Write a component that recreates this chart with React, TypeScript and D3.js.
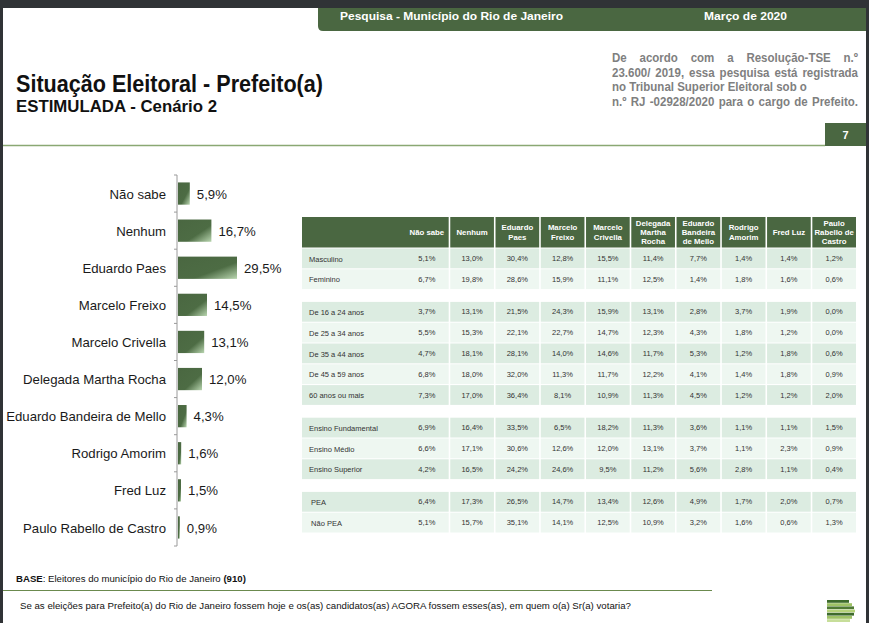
import React, { useEffect, useRef } from "react";
import * as d3 from "d3";

// bar chart data (estimulada - cenário 2)
const candidates = [
  "Não sabe",
  "Nenhum",
  "Eduardo Paes",
  "Marcelo Freixo",
  "Marcelo Crivella",
  "Delegada Martha Rocha",
  "Eduardo Bandeira de Mello",
  "Rodrigo Amorim",
  "Fred Luz",
  "Paulo Rabello de Castro",
];
const totals = [5.9, 16.7, 29.5, 14.5, 13.1, 12.0, 4.3, 1.6, 1.5, 0.9];

// table column headers
const tableHeaders = [
  ["Não sabe"],
  ["Nenhum"],
  ["Eduardo", "Paes"],
  ["Marcelo", "Freixo"],
  ["Marcelo", "Crivella"],
  ["Delegada", "Martha", "Rocha"],
  ["Eduardo", "Bandeira", "de Mello"],
  ["Rodrigo", "Amorim"],
  ["Fred Luz"],
  ["Paulo", "Rabello de", "Castro"],
];

// table rows, by segment
const masculino = [5.1, 13.0, 30.4, 12.8, 15.5, 11.4, 7.7, 1.4, 1.4, 1.2];
const feminino = [6.7, 19.8, 28.6, 15.9, 11.1, 12.5, 1.4, 1.8, 1.6, 0.6];
const de16a24 = [3.7, 13.1, 21.5, 24.3, 15.9, 13.1, 2.8, 3.7, 1.9, 0.0];
const de25a34 = [5.5, 15.3, 22.1, 22.7, 14.7, 12.3, 4.3, 1.8, 1.2, 0.0];
const de35a44 = [4.7, 18.1, 28.1, 14.0, 14.6, 11.7, 5.3, 1.2, 1.8, 0.6];
const de45a59 = [6.8, 18.0, 32.0, 11.3, 11.7, 12.2, 4.1, 1.4, 1.8, 0.9];
const mais60 = [7.3, 17.0, 36.4, 8.1, 10.9, 11.3, 4.5, 1.2, 1.2, 2.0];
const ensFund = [6.9, 16.4, 33.5, 6.5, 18.2, 11.3, 3.6, 1.1, 1.1, 1.5];
const ensMedio = [6.6, 17.1, 30.6, 12.6, 12.0, 13.1, 3.7, 1.1, 2.3, 0.9];
const ensSup = [4.2, 16.5, 24.2, 24.6, 9.5, 11.2, 5.6, 2.8, 1.1, 0.4];
const pea = [6.4, 17.3, 26.5, 14.7, 13.4, 12.6, 4.9, 1.7, 2.0, 0.7];
const naoPea = [5.1, 15.7, 35.1, 14.1, 12.5, 10.9, 3.2, 1.6, 0.6, 1.3];

const rowLabels = [
  "Masculino",
  "Feminino",
  "De 16 a 24 anos",
  "De 25 a 34 anos",
  "De 35 a 44 anos",
  "De 45 a 59 anos",
  "60 anos ou mais",
  "Ensino Fundamental",
  "Ensino Médio",
  "Ensino Superior",
  " PEA",
  " Não PEA",
];
const rowGroups = [0, 0, 1, 1, 1, 1, 1, 2, 2, 2, 3, 3];
const rowValues = [
  masculino, feminino, de16a24, de25a34, de35a44, de45a59, mais60,
  ensFund, ensMedio, ensSup, pea, naoPea,
];

const noteLines = [
  "De acordo com a Resolução-TSE n.º",
  "23.600/ 2019, essa pesquisa está registrada",
  "no Tribunal Superior Eleitoral sob o",
  "n.º RJ -02928/2020 para o cargo de Prefeito.",
];

const GREEN = "#4a6741";
const NARROW = "'Liberation Sans Narrow', 'Arial Narrow', 'Liberation Sans', Arial, sans-serif";
const SANS = "'Liberation Sans', Arial, sans-serif";

const ptBR = d3.formatLocale({
  decimal: ",",
  thousands: ".",
  grouping: [3],
  currency: ["R$", ""],
});
const pct = (v: number) => ptBR.format(".1f")(v) + "%";

const W = 869;
const H = 623;

const App: React.FC = () => {
  const ref = useRef<SVGSVGElement>(null);

  useEffect(() => {
    if (!ref.current) return;
    const svg = d3.select(ref.current);
    svg.selectAll("*").remove();
    svg.attr("width", W).attr("height", H);

    const defs = svg.append("defs");
    const grad = defs
      .append("linearGradient")
      .attr("id", "barGrad")
      .attr("x1", 0)
      .attr("y1", 0)
      .attr("x2", 1)
      .attr("y2", 1);
    grad.append("stop").attr("offset", "0%").attr("stop-color", "#4a6741");
    grad.append("stop").attr("offset", "62%").attr("stop-color", "#4d6c44");
    grad.append("stop").attr("offset", "100%").attr("stop-color", "#b9d6b0");

    // squeeze a text horizontally so it spans `width` (no narrow font installed)
    const fitWidth = (
      g: d3.Selection<SVGGElement, unknown, null, undefined>,
      t: d3.Selection<SVGTextElement, unknown, null, undefined>,
      x0: number,
      width: number
    ) => {
      const natural = (t.node() as SVGTextElement).getComputedTextLength();
      g.attr("transform", `translate(${x0},0) scale(${width / natural},1)`);
    };

    // window frame
    svg.append("rect").attr("width", W).attr("height", H).attr("fill", "#303336");
    svg.append("rect").attr("x", 3).attr("y", 8).attr("width", 863).attr("height", H - 8).attr("fill", "#fff");

    // header tab
    svg
      .append("path")
      .attr("d", "M318,8 H866 V31 H323 Q318,31 318,26 Z")
      .attr("fill", GREEN);
    svg
      .append("text")
      .attr("x", 340)
      .attr("y", 20)
      .attr("fill", "#fff")
      .attr("font-family", SANS)
      .attr("font-weight", "bold")
      .attr("font-size", 11.5)
      .attr("textLength", 223)
      .attr("lengthAdjust", "spacingAndGlyphs")
      .text("Pesquisa - Município do Rio de Janeiro");
    svg
      .append("text")
      .attr("x", 704)
      .attr("y", 20)
      .attr("fill", "#fff")
      .attr("font-family", SANS)
      .attr("font-weight", "bold")
      .attr("font-size", 11.5)
      .attr("textLength", 83)
      .attr("lengthAdjust", "spacingAndGlyphs")
      .text("Março de 2020");

    // titles
    svg
      .append("text")
      .attr("x", 16)
      .attr("y", 92)
      .attr("fill", "#111")
      .attr("font-family", NARROW)
      .attr("font-weight", "bold")
      .attr("font-size", 23)
      .attr("textLength", 307)
      .attr("lengthAdjust", "spacingAndGlyphs")
      .text("Situação Eleitoral - Prefeito(a)");
    svg
      .append("text")
      .attr("x", 16)
      .attr("y", 112)
      .attr("fill", "#111")
      .attr("font-family", NARROW)
      .attr("font-weight", "bold")
      .attr("font-size", 17)
      .attr("textLength", 201)
      .attr("lengthAdjust", "spacingAndGlyphs")
      .text("ESTIMULADA - Cenário 2");

    // registration note, justified, condensed horizontally
    const noteX0 = 612;
    const noteX1 = 858;
    const squeeze = 0.9;
    const note = svg
      .append("g")
      .attr("transform", `translate(${noteX0},0) scale(${squeeze},1)`);
    const target = (noteX1 - noteX0) / squeeze;
    noteLines.forEach((line, i) => {
      const t = note
        .append("text")
        .attr("x", 0)
        .attr("y", 62 + i * 14.6)
        .attr("fill", "#7f7f7f")
        .attr("font-family", NARROW)
        .attr("font-weight", "bold")
        .attr("font-size", 12.8)
        .text(line);
      const node = t.node() as SVGTextElement;
      const natural = node.getComputedTextLength();
      const words = line.split(" ").length;
      if (i !== 2 && words > 1) {
        const extra = (target - natural) / (words - 1);
        t.attr("word-spacing", extra);
      }
    });

    // page number box and rule
    svg.append("rect").attr("x", 825).attr("y", 123).attr("width", 41).attr("height", 23).attr("fill", GREEN);
    svg
      .append("text")
      .attr("x", 845.5)
      .attr("y", 139)
      .attr("text-anchor", "middle")
      .attr("fill", "#fff")
      .attr("font-family", SANS)
      .attr("font-weight", "bold")
      .attr("font-size", 11)
      .text("7");
    svg.append("line").attr("x1", 3).attr("x2", 825).attr("y1", 145.5).attr("y2", 145.5).attr("stroke", "#8aa873").attr("stroke-width", 1.5);

    // ---- bar chart ----
    const y = d3
      .scaleBand<string>()
      .domain(candidates)
      .range([175, 546])
      .paddingInner(0.4)
      .paddingOuter(0.2);
    const x = d3.scaleLinear().domain([0, 30]).range([178, 238]);
    const step = y.step();

    const axis = svg.append("g");
    axis
      .append("line")
      .attr("x1", 177)
      .attr("x2", 177)
      .attr("y1", 175)
      .attr("y2", 546)
      .attr("stroke", "#9a9a9a")
      .attr("stroke-width", 1);
    d3.range(candidates.length + 1).forEach((i) => {
      const ty = 175 + i * step;
      axis
        .append("line")
        .attr("x1", 174)
        .attr("x2", 177)
        .attr("y1", ty)
        .attr("y2", ty)
        .attr("stroke", "#9a9a9a");
    });

    const bars = svg.append("g");
    candidates.forEach((c, i) => {
      const by = y(c) ?? 0;
      bars
        .append("rect")
        .attr("x", x(0))
        .attr("y", by)
        .attr("width", x(totals[i]) - x(0))
        .attr("height", y.bandwidth())
        .attr("fill", "url(#barGrad)");
      bars
        .append("text")
        .attr("x", 166)
        .attr("y", by + y.bandwidth() / 2 + 0.5)
        .attr("dy", "0.35em")
        .attr("text-anchor", "end")
        .attr("fill", "#1a1a1a")
        .attr("font-family", SANS)
        .attr("font-size", 13.2)
        .text(c);
      bars
        .append("text")
        .attr("x", x(totals[i]) + 7)
        .attr("y", by + y.bandwidth() / 2 + 0.5)
        .attr("dy", "0.35em")
        .attr("fill", "#1a1a1a")
        .attr("font-family", SANS)
        .attr("font-size", 13.2)
        .text(pct(totals[i]));
    });

    // ---- table ----
    const colX = d3
      .scaleBand<number>()
      .domain(d3.range(tableHeaders.length))
      .range([405, 856])
      .paddingInner(0.035)
      .paddingOuter(0);
    const labelX0 = 302;
    const labelW = 103;
    const rowStep = 20.8;
    const rowH = 19.8;
    const groupGap = 11.8;
    const rowTop = (i: number) => 248.5 + rowStep * i + groupGap * rowGroups[i];

    const table = svg.append("g");
    // header
    table.append("rect").attr("x", labelX0).attr("y", 217).attr("width", labelW).attr("height", 30.5).attr("fill", GREEN);
    tableHeaders.forEach((lines, j) => {
      const cx = colX(j) ?? 0;
      table
        .append("rect")
        .attr("x", cx)
        .attr("y", 217)
        .attr("width", colX.bandwidth())
        .attr("height", 30.5)
        .attr("fill", GREEN);
      const lh = 9.4;
      const startY = 232.2 - ((lines.length - 1) * lh) / 2;
      lines.forEach((ln, k) => {
        table
          .append("text")
          .attr("x", cx + colX.bandwidth() / 2)
          .attr("y", startY + k * lh)
          .attr("dy", "0.35em")
          .attr("text-anchor", "middle")
          .attr("fill", "#fff")
          .attr("font-family", SANS)
          .attr("font-weight", "bold")
          .attr("font-size", 7.8)
          .text(ln);
      });
    });

    rowLabels.forEach((label, i) => {
      const ry = rowTop(i);
      const firstInGroup = rowGroups.indexOf(rowGroups[i]);
      const fill = (i - firstInGroup) % 2 === 0 ? "#dcece1" : "#eef7f1";
      table.append("rect").attr("x", labelX0).attr("y", ry).attr("width", labelW).attr("height", rowH).attr("fill", fill);
      table
        .append("text")
        .attr("x", 309)
        .attr("y", ry + rowH / 2 + 0.5)
        .attr("dy", "0.35em")
        .attr("fill", "#333")
        .attr("font-family", SANS)
        .attr("font-size", 7.5)
        .style("white-space", "pre")
        .text(label);
      rowValues[i].forEach((v, j) => {
        const cx = colX(j) ?? 0;
        table
          .append("rect")
          .attr("x", cx)
          .attr("y", ry)
          .attr("width", colX.bandwidth())
          .attr("height", rowH)
          .attr("fill", fill);
        table
          .append("text")
          .attr("x", cx + colX.bandwidth() / 2)
          .attr("y", ry + rowH / 2)
          .attr("dy", "0.35em")
          .attr("text-anchor", "middle")
          .attr("fill", "#333")
          .attr("font-family", SANS)
          .attr("font-size", 7.5)
          .text(pct(v));
      });
    });

    // ---- footer ----
    const baseG = svg.append("g");
    const base = baseG
      .append("text")
      .attr("x", 0)
      .attr("y", 582)
      .attr("fill", "#111")
      .attr("font-family", NARROW)
      .attr("font-size", 9.8);
    base.append("tspan").attr("font-weight", "bold").text("BASE");
    base.append("tspan").text(": Eleitores do município do Rio de Janeiro ");
    base.append("tspan").attr("font-weight", "bold").text("(910)");
    fitWidth(baseG, base, 16, 230);

    svg.append("line").attr("x1", 3).attr("x2", 712).attr("y1", 590.5).attr("y2", 590.5).attr("stroke", "#6b8a4e").attr("stroke-width", 1.2);

    const qG = svg.append("g");
    const q = qG
      .append("text")
      .attr("x", 0)
      .attr("y", 609)
      .attr("fill", "#111")
      .attr("font-family", NARROW)
      .attr("font-size", 9.8)
      .text(
        "Se as eleições para Prefeito(a) do Rio de Janeiro fossem hoje e os(as) candidatos(as) AGORA fossem esses(as), em quem o(a) Sr(a) votaria?"
      );
    fitWidth(qG, q, 20, 612);

    // logo stripes
    const stripeW = [22, 25, 27, 28, 27, 25, 23];
    const stripeC = ["#3e6b2c", "#9fc266", "#4f7a33", "#b5d27a", "#3e6b2c", "#9fc266", "#c7de9a"];
    stripeW.forEach((w, i) => {
      svg
        .append("rect")
        .attr("x", 827)
        .attr("y", 600 + i * 3.2)
        .attr("width", w)
        .attr("height", 2.8)
        .attr("fill", stripeC[i]);
    });
  }, []);

  return (
    <svg
      ref={ref}
      style={{ position: "absolute", left: 0, top: 0, display: "block" }}
      width={W}
      height={H}
    />
  );
};

export default App;
